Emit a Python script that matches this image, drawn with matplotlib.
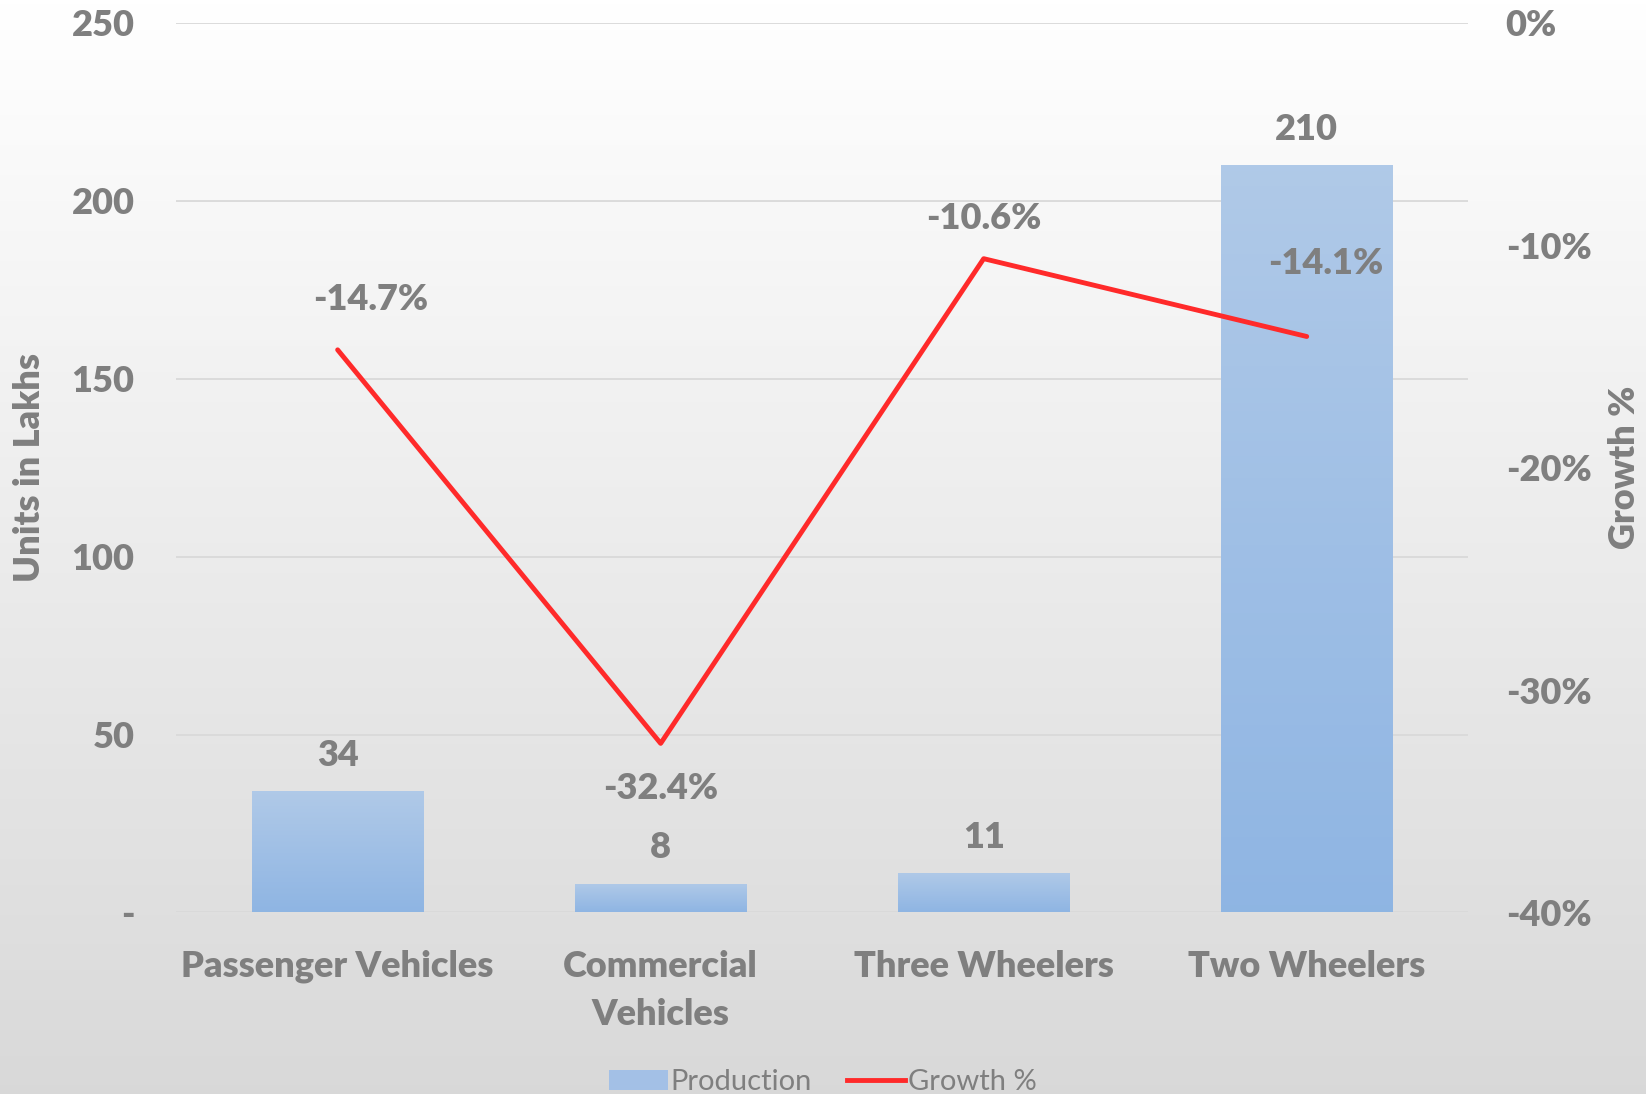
import numpy as np
import matplotlib.pyplot as plt
from matplotlib.lines import Line2D
from matplotlib.patches import Patch

categories = ['Passenger Vehicles', 'Commercial\nVehicles', 'Three Wheelers', 'Two Wheelers']
production = [34, 8, 11, 210]
growth = [-14.7, -32.4, -10.6, -14.1]

left_ticks = [0, 50, 100, 150, 200, 250]
left_labels = ['-', '50', '100', '150', '200', '250']
right_ticks = [-40, -30, -20, -10, 0]
right_labels = ['-40%', '-30%', '-20%', '-10%', '0%']

# label offsets in pixels for the growth labels (dx, dy)
growth_offsets = [(33, 50), (0, -45), (0, 40), (19, 73)]

grey = '#7f7f7f'
fs = 26
wt = 'heavy'
plt.rcParams['font.family'] = ['Lato', 'DejaVu Sans']

fig = plt.figure(figsize=(16.46, 10.94), dpi=100)

# background gradient
bg = fig.add_axes([0, 0, 1, 1], zorder=-10)
grad = np.linspace(1.0, 0.85, 256).reshape(-1, 1)
bg.imshow(np.dstack([grad, grad, grad]), aspect='auto', extent=[0, 1, 0, 1])
bg.axis('off')

ax = fig.add_axes([0.107, 0.166, 0.785, 0.813])
ax.patch.set_alpha(0)
x = np.arange(len(categories))
bars = ax.bar(x, production, width=0.53, color='none', zorder=2)

# gradient fill for each bar
top_c = np.array([0.69, 0.79, 0.91])
bot_c = np.array([0.56, 0.71, 0.89])
g = np.linspace(0, 1, 100).reshape(-1, 1, 1)
bar_img = top_c * (1 - g) + bot_c * g
for b in bars:
    im = ax.imshow(bar_img, extent=[b.get_x(), b.get_x() + b.get_width(), 0, b.get_height()],
                   aspect='auto', zorder=2)
    im.set_clip_path(b)

for xi, v in zip(x, production):
    ax.annotate(str(v), (xi, v), xytext=(0, 36), textcoords='offset pixels',
                ha='center', va='center', fontsize=fs, fontweight=wt, color=grey)

ax.set_xlim(-0.5, 3.5)
ax.set_ylim(0, 250)
ax.set_yticks(left_ticks)
ax.set_yticklabels(left_labels)
ax.set_xticks(x)
ax.set_xticklabels(categories, linespacing=1.55)
ax.grid(axis='y', color='#d9d9d9', linewidth=1.3, zorder=0)
ax.set_axisbelow(True)
for s in ax.spines.values():
    s.set_visible(False)
ax.tick_params(axis='y', length=0, pad=30, labelsize=fs, labelcolor=grey)
ax.tick_params(axis='x', length=0, pad=27, labelsize=fs, labelcolor=grey)
for lab in ax.get_xticklabels() + ax.get_yticklabels():
    lab.set_fontweight(wt)
ax.set_ylabel('Units in Lakhs', fontsize=fs, fontweight=wt, color=grey)
ax.yaxis.set_label_coords(-0.101, 0.5)

ax2 = ax.twinx()
ax2.plot(x, growth, color='#ff2a2a', linewidth=3.5, solid_capstyle='round', zorder=3)
ax2.set_ylim(-40, 0)
ax2.set_yticks(right_ticks)
ax2.set_yticklabels(right_labels)
for s in ax2.spines.values():
    s.set_visible(False)
ax2.tick_params(axis='y', length=0, pad=27, labelsize=fs, labelcolor=grey)
for lab in ax2.get_yticklabels():
    lab.set_fontweight(wt)
ax2.set_ylabel('Growth %', fontsize=fs, fontweight=wt, color=grey, rotation=90)
ax2.yaxis.set_label_coords(1.108, 0.5)

for xi, v, (dx, dy) in zip(x, growth, growth_offsets):
    ax2.annotate(f'{v:.1f}%', (xi, v), xytext=(dx, dy), textcoords='offset pixels',
                 ha='center', va='center', fontsize=fs, fontweight=wt, color=grey)

handles = [Patch(facecolor='#a3c0e6', edgecolor='none'),
           Line2D([0], [0], color='#ff2a2a', linewidth=3.5)]
leg = fig.legend(handles, ['Production', 'Growth %'], loc='center',
                 bbox_to_anchor=(0.5, 0.011), ncol=2, frameon=False, fontsize=21,
                 handlelength=2.0, handletextpad=0.1, columnspacing=1.2)
for t in leg.get_texts():
    t.set_color(grey)

fig.savefig('out.png', dpi=100)
